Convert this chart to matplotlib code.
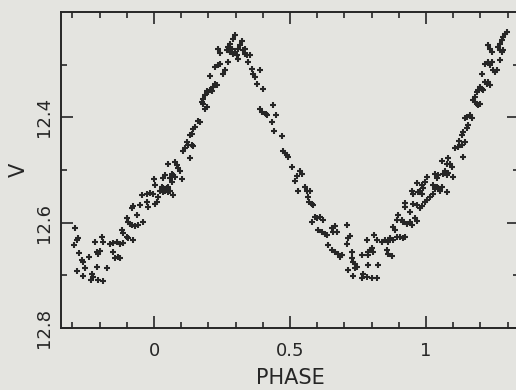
import matplotlib
matplotlib.use("Agg")
import matplotlib.pyplot as plt
from matplotlib.ticker import FixedLocator

# light curve points (phase, V magnitude)
phase = [
    -0.290, -0.278, -0.284, -0.294, -0.275, -0.266, -0.260, -0.254, -0.284, -0.262,
    -0.238, -0.229, -0.233, -0.223, -0.205, -0.186, -0.208, -0.174, -0.211, -0.205,
    -0.199, -0.217, -0.192, -0.186, -0.150, -0.143, -0.131, -0.125, -0.162, -0.150,
    -0.137, -0.125, -0.113, -0.119, -0.115, -0.100, -0.094, -0.076, -0.100, -0.094,
    -0.088, -0.082, -0.070, -0.058, -0.064, -0.039, -0.082, -0.076, -0.051, -0.027,
    -0.021, -0.045, -0.027, -0.015, -0.003, 0.004, 0.010,
    0.000, 0.002, 0.016, 0.028, 0.034, 0.040, 0.047, 0.053, 0.022, 0.034,
    0.053, 0.059, 0.071, 0.040, 0.034, 0.059, 0.065, 0.102, 0.065, 0.071,
    0.077, 0.053, 0.077, 0.083, 0.089, 0.096, 0.132, 0.114, 0.108, 0.120,
    0.126, 0.139, 0.144, 0.139, 0.132, 0.151, 0.144, 0.163, 0.169,
    0.188, 0.194, 0.175, 0.181, 0.181, 0.188, 0.194, 0.200, 0.206, 0.212,
    0.218, 0.224, 0.231, 0.206, 0.236, 0.243, 0.224, 0.261, 0.255, 0.236,
    0.243, 0.273, 0.298, 0.292, 0.279, 0.273, 0.286, 0.267, 0.279, 0.292,
    0.298, 0.304, 0.310, 0.322, 0.316, 0.310, 0.328, 0.335, 0.341, 0.335,
    0.353, 0.347, 0.359, 0.365, 0.371, 0.390, 0.378, 0.402, 0.390, 0.396,
    0.412, 0.417, 0.436, 0.449, 0.433, 0.441, 0.469, 0.475, 0.482, 0.488,
    0.494, 0.506, 0.537, 0.543, 0.525, 0.518, 0.531, 0.555, 0.561, 0.574,
    0.567,
    0.571, 0.580, 0.586, 0.592, 0.598, 0.610, 0.622, 0.580, 0.604, 0.617,
    0.629, 0.635, 0.653, 0.659, 0.665, 0.672, 0.708, 0.721, 0.714, 0.708,
    0.641, 0.653, 0.665, 0.678, 0.684, 0.690, 0.727, 0.727, 0.733, 0.739,
    0.714, 0.739, 0.745, 0.764, 0.733, 0.764, 0.769, 0.782, 0.800, 0.819,
    0.788, 0.788, 0.794, 0.800, 0.806, 0.788, 0.825, 0.782, 0.809, 0.819,
    0.837, 0.849, 0.861, 0.868, 0.880, 0.892, 0.856, 0.861, 0.874, 0.880,
    0.886, 0.898, 0.892,
    0.911, 0.917, 0.929, 0.941, 0.960, 0.966, 0.947, 0.904, 0.917, 0.923,
    0.923, 0.923, 0.953, 0.966, 0.978, 0.941, 0.984, 0.966, 0.984, 0.990,
    0.978, 0.984, 0.972, 0.953, 0.947, 1.027, 1.015, 1.003, 0.996, 1.027,
    1.039, 1.045, 1.051, 1.033, 1.058, 1.076, 1.033, 1.045, 1.039, 1.003,
    0.996, 1.070, 1.064, 1.076, 1.082, 1.100, 1.058, 1.082, 1.088, 1.094,
    1.137, 1.131, 1.122, 1.119, 1.131, 1.135,
    1.076, 1.107, 1.143, 1.150, 1.156, 1.150, 1.162, 1.168, 1.143, 1.180,
    1.174, 1.180, 1.186, 1.192, 1.199, 1.199, 1.192, 1.205, 1.211, 1.186,
    1.217, 1.223, 1.229, 1.235, 1.205, 1.247, 1.254, 1.260, 1.217, 1.229,
    1.235, 1.242, 1.272, 1.229, 1.235, 1.242, 1.290, 1.284, 1.278, 1.272,
    1.266, 1.272, 1.278, 1.284, 1.297,
]
vmag = [
    12.610, 12.630, 12.633, 12.643, 12.657, 12.671, 12.675, 12.687, 12.692, 12.702,
    12.665, 12.697, 12.708, 12.704, 12.709, 12.711, 12.685, 12.687, 12.656, 12.659,
    12.654, 12.637, 12.627, 12.637, 12.656, 12.668, 12.665, 12.668, 12.640, 12.639,
    12.637, 12.640, 12.639, 12.614, 12.620, 12.627, 12.630, 12.632, 12.592, 12.599,
    12.602, 12.605, 12.607, 12.605, 12.586, 12.599, 12.573, 12.569, 12.567, 12.561,
    12.570, 12.548, 12.545, 12.544, 12.546, 12.564, 12.561,
    12.518, 12.529, 12.551, 12.532, 12.535, 12.539, 12.535, 12.532, 12.539, 12.542,
    12.542, 12.539, 12.548, 12.510, 12.516, 12.516, 12.523, 12.518, 12.507, 12.510,
    12.513, 12.488, 12.485, 12.491, 12.497, 12.501, 12.478, 12.459, 12.464, 12.447,
    12.453, 12.453, 12.455, 12.431, 12.434, 12.418, 12.423, 12.407, 12.409,
    12.384, 12.380, 12.371, 12.374, 12.365, 12.358, 12.350, 12.352, 12.349, 12.350,
    12.343, 12.336, 12.339, 12.322, 12.301, 12.298, 12.305, 12.311, 12.317, 12.270,
    12.278, 12.295, 12.244, 12.251, 12.260, 12.267, 12.270, 12.273, 12.276, 12.279,
    12.276, 12.282, 12.289, 12.255, 12.263, 12.270, 12.273, 12.279, 12.282, 12.270,
    12.282, 12.295, 12.308, 12.317, 12.324, 12.310, 12.336, 12.346, 12.384, 12.390,
    12.393, 12.396, 12.377, 12.395, 12.409, 12.426, 12.436, 12.463, 12.468, 12.472,
    12.476, 12.495, 12.502, 12.507, 12.512, 12.520, 12.539, 12.533, 12.539, 12.540,
    12.551,
    12.561, 12.564, 12.567, 12.589, 12.592, 12.589, 12.594, 12.599, 12.613, 12.618,
    12.621, 12.624, 12.611, 12.618, 12.607, 12.618, 12.605, 12.626, 12.630, 12.640,
    12.643, 12.652, 12.656, 12.659, 12.665, 12.662, 12.656, 12.668, 12.675, 12.678,
    12.689, 12.687, 12.684, 12.662, 12.702, 12.706, 12.697, 12.703, 12.706, 12.706,
    12.681, 12.656, 12.652, 12.649, 12.656, 12.662, 12.681, 12.633, 12.624, 12.633,
    12.637, 12.633, 12.637, 12.630, 12.633, 12.627, 12.652, 12.659, 12.664, 12.608,
    12.614, 12.586, 12.595,
    12.595, 12.599, 12.602, 12.599, 12.592, 12.597, 12.605, 12.627, 12.630, 12.627,
    12.563, 12.570, 12.564, 12.567, 12.573, 12.580, 12.569, 12.525, 12.529, 12.535,
    12.539, 12.545, 12.542, 12.545, 12.539, 12.545, 12.551, 12.557, 12.561, 12.529,
    12.532, 12.535, 12.539, 12.537, 12.532, 12.542, 12.507, 12.510, 12.516, 12.513,
    12.523, 12.501, 12.507, 12.510, 12.506, 12.513, 12.483, 12.478, 12.488, 12.494,
    12.428, 12.434, 12.444, 12.456, 12.453, 12.475,
    12.488, 12.459, 12.447, 12.421, 12.415, 12.399, 12.396, 12.402, 12.402, 12.361,
    12.368, 12.371, 12.374, 12.377, 12.374, 12.343, 12.349, 12.346, 12.349, 12.352,
    12.333, 12.336, 12.333, 12.339, 12.317, 12.311, 12.314, 12.310, 12.298, 12.295,
    12.301, 12.295, 12.292, 12.263, 12.270, 12.276, 12.241, 12.248, 12.254, 12.260,
    12.267, 12.273, 12.276, 12.272, 12.238,
]

x_major = [0, 0.5, 1]
x_major_labels = ["0", "0.5", "1"]
x_minor = [-0.3, -0.2, -0.1, 0.1, 0.2, 0.3, 0.4, 0.6, 0.7, 0.8, 0.9, 1.1, 1.2, 1.3]
y_major = [12.4, 12.6, 12.8]
y_major_labels = ["12.4", "12.6", "12.8"]
y_minor = [12.3, 12.5, 12.7]

paper = "#e4e4e0"
ink = "#262626"

plt.rcParams["font.family"] = "DejaVu Sans"
fig = plt.figure(figsize=(5.16, 3.90), dpi=100, facecolor=paper)
ax = fig.add_axes([61 / 516, 62 / 390, 458 / 516, 316 / 390])
ax.set_facecolor(paper)

ax.plot(phase, vmag, linestyle="none", marker="+", markersize=4.8,
        markeredgewidth=1.5, color=ink)

ax.set_xlim(-0.342, 1.342)
ax.set_ylim(12.8, 12.2)

for side in ["left", "top", "bottom"]:
    ax.spines[side].set_linewidth(1.4)
    ax.spines[side].set_color(ink)
ax.spines["right"].set_visible(False)

ax.xaxis.set_major_locator(FixedLocator(x_major))
ax.set_xticklabels(x_major_labels)
ax.xaxis.set_minor_locator(FixedLocator(x_minor))
ax.yaxis.set_major_locator(FixedLocator(y_major))
ax.set_yticklabels(y_major_labels, rotation=90, va="center")
ax.yaxis.set_minor_locator(FixedLocator(y_minor))

ax.tick_params(which="both", direction="in", top=True, right=True,
               color=ink, width=1.2, labelcolor=ink, labelsize=13)
ax.tick_params(which="major", length=8.6)
ax.tick_params(which="minor", length=4.5)
ax.tick_params(axis="x", which="major", pad=10)
ax.tick_params(axis="y", which="major", pad=6)

ax.set_xlabel("PHASE", fontsize=15, color=ink, labelpad=6)
ax.set_ylabel("V", fontsize=15, color=ink, labelpad=4)

fig.savefig("out.png", dpi=100, facecolor=paper)
